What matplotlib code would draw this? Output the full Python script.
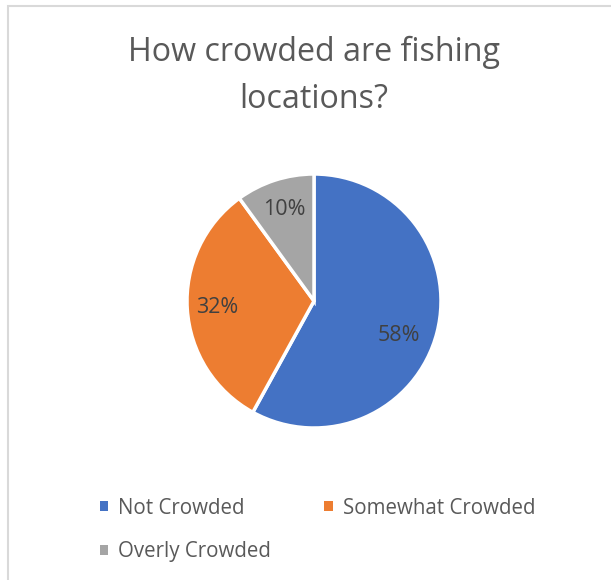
import matplotlib
matplotlib.use("Agg")
import numpy as np
import matplotlib.pyplot as plt
from matplotlib.patches import Rectangle, Patch

plt.rcParams['font.family'] = ['Open Sans', 'DejaVu Sans']

# Survey answers
labels = ["Not Crowded", "Somewhat Crowded", "Overly Crowded"]
shares = [58, 32, 10]
colors = ["#4472C4", "#ED7D31", "#A5A5A5"]
title = "How crowded are fishing\nlocations?"

W, H = 611, 580
fig = plt.figure(figsize=(W / 100, H / 100), dpi=100)

# chart frame (runs off the right/bottom edge)
fig.patches.append(Rectangle((8 / W, -0.1), 1.2, 1 - 6 / H + 0.1,
                             transform=fig.transFigure, fill=False,
                             edgecolor="#D9D9D9", linewidth=1.5))

fig.text(314 / W, 1 - 76 / H, title, ha="center", va="center",
         fontsize=23.2, color="#595959", linespacing=1.55)

# pie area
cx, cy, r = 314, 301, 127
ax = fig.add_axes([(cx - r) / W, (H - cy - r) / H, 2 * r / W, 2 * r / H])
wedges, texts, autotexts = ax.pie(
    shares, colors=colors, startangle=90, counterclock=False,
    autopct="%d%%", pctdistance=0.76,
    wedgeprops=dict(edgecolor="white", linewidth=2.5),
    textprops=dict(fontsize=15.5, color="#404040"))
# the big slice's label sits a bit lower than its mid-angle
a = np.deg2rad(-22)
autotexts[0].set_position((0.72 * np.cos(a), 0.72 * np.sin(a)))
ax.set_xlim(-1.0, 1.0)
ax.set_ylim(-1.0, 1.0)
ax.set_aspect("equal")

# legend fills row by row: two entries on the first line, one below
order = [0, 2, 1]
handles = [Patch(facecolor=colors[i], edgecolor="none") for i in order]
fig.legend(handles, [labels[i] for i in order], loc="upper left",
           bbox_to_anchor=(81 / W, 1 - 479 / H), ncol=2, frameon=False,
           fontsize=14.8, labelcolor="#595959",
           handlelength=0.4, handleheight=0.4, handletextpad=0.5,
           columnspacing=2.6, labelspacing=1.1)

fig.savefig("out.png", dpi=100)
